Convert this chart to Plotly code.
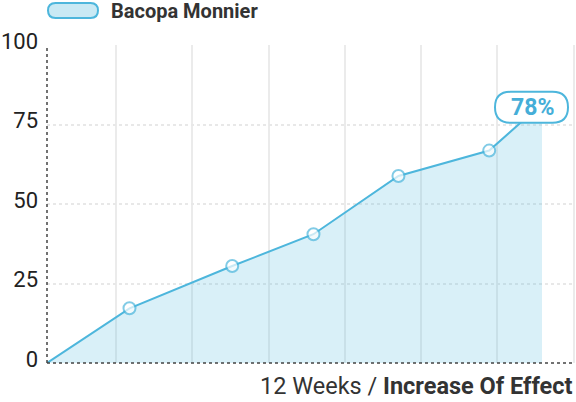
import plotly.graph_objects as go

series_name = "Bacopa Monnier"
weeks = [0, 2.0, 4.49, 6.46, 8.52, 10.72, 12]
effect = [0, 17.2, 30.5, 40.5, 58.8, 66.8, 81.5]
final_label = "78%"
y_ticks = [0, 25, 50, 75, 100]
x_title_plain = "12 Weeks / "
x_title_bold = "Increase Of Effect"

LINE = "#4db6dc"
FILL = "rgba(77,182,220,0.21)"

marker_sizes = [0] + [12] * (len(weeks) - 2) + [0]


def pill_path(x0, y0, w, h):
    r = h / 2
    x1, y1 = x0 + w, y0 + h
    return (f"M {x0 + r},{y0} L {x1 - r},{y0} Q {x1},{y0} {x1},{y0 + r} "
            f"Q {x1},{y1} {x1 - r},{y1} L {x0 + r},{y1} Q {x0},{y1} {x0},{y0 + r} "
            f"Q {x0},{y0} {x0 + r},{y0} Z")


fig = go.Figure()
fig.add_trace(go.Scatter(
    x=weeks, y=effect, mode="lines+markers", fill="tozeroy",
    fillcolor=FILL, line=dict(color=LINE, width=2),
    marker=dict(size=marker_sizes, color="white", line=dict(color=LINE, width=2)),
    showlegend=False, hoverinfo="skip", cliponaxis=False,
))

# value pill anchored on the last point
fig.add_shape(type="path", path=pill_path(-47, -19, 73, 31), xref="x", yref="y",
              xsizemode="pixel", ysizemode="pixel",
              xanchor=weeks[-1], yanchor=effect[-1],
              fillcolor="white", line=dict(color=LINE, width=2), layer="above")
fig.add_annotation(x=weeks[-1], y=effect[-1], xref="x", yref="y",
                   text=f"<b>{final_label}</b>", showarrow=False,
                   xshift=-10, yshift=-3.5,
                   font=dict(family="Roboto", size=23, color="#45aed8"))

# dotted axis lines
fig.add_shape(type="line", xref="paper", yref="paper", x0=0, x1=0, y0=0, y1=1,
              line=dict(color="#444", width=1.5, dash="dot"))
fig.add_shape(type="line", xref="paper", yref="paper", x0=0, x1=1, y0=0, y1=0,
              line=dict(color="#444", width=1.5, dash="dot"))

# legend
fig.add_shape(type="path", path=pill_path(1, 27, 50, 15), xref="paper", yref="paper",
              xsizemode="pixel", ysizemode="pixel", xanchor=0, yanchor=1,
              fillcolor="rgba(77,182,220,0.3)", line=dict(color=LINE, width=2),
              layer="above")
fig.add_annotation(x=0, y=1, xref="paper", yref="paper", xshift=62, yshift=34,
                   text=f"<b>{series_name}</b>", showarrow=False,
                   xanchor="left", yanchor="middle",
                   font=dict(family="Roboto", size=20, color="#333"))

# x title
fig.add_annotation(x=1, y=0, xref="paper", yref="paper", yshift=-23,
                   text=f"{x_title_plain}<b>{x_title_bold}</b>", showarrow=False,
                   xanchor="right", yanchor="middle",
                   font=dict(family="Roboto", size=23.5, color="#333"))

fig.update_layout(
    width=576, height=402,
    margin=dict(l=47, r=1, t=45, b=38.5, autoexpand=False),
    paper_bgcolor="white", plot_bgcolor="white",
    font=dict(family="Roboto", color="#222"),
    xaxis=dict(range=[0, 12.8], tick0=1.67, dtick=1.85, showticklabels=False,
               showgrid=True, gridcolor="#ebebeb", gridwidth=1.5,
               zeroline=False, showline=False, fixedrange=True, automargin=False),
    yaxis=dict(range=[0, 100], tickvals=y_ticks, ticktext=[str(v) for v in y_ticks],
               showgrid=True, gridcolor="#e8e8e8", gridwidth=1.5, griddash="dot",
               zeroline=False, showline=False, tickfont=dict(size=22, color="#222"),
               ticklabelstandoff=8, ticklabelshift=-4, fixedrange=True, automargin=False),
)

fig.write_html("out.html", config={"displayModeBar": False},
               post_script="document.body.style.margin='0px';")
